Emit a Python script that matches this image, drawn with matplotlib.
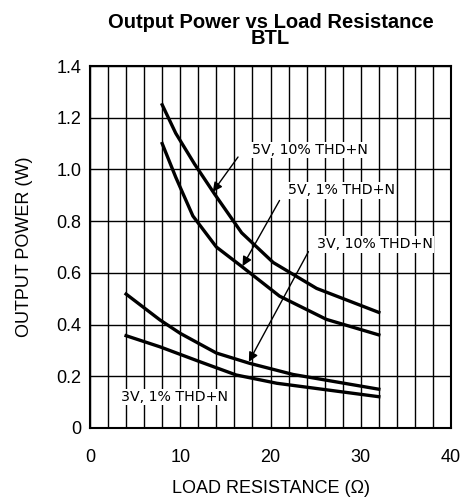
import matplotlib.pyplot as plt

# load resistance (ohm) and output power (W)
r_5v_10 = [8, 9.5, 11.6, 13.8, 16.8, 20.3, 25.1, 32]
p_5v_10 = [1.25, 1.14, 1.02, 0.905, 0.755, 0.64, 0.54, 0.447]

r_5v_1 = [8, 9.5, 11.4, 14, 16.8, 21, 26.2, 32]
p_5v_1 = [1.10, 0.97, 0.82, 0.70, 0.625, 0.51, 0.42, 0.36]

r_3v_10 = [4, 7.75, 10, 14, 17.7, 22.5, 32]
p_3v_10 = [0.518, 0.418, 0.366, 0.29, 0.25, 0.207, 0.15]

r_3v_1 = [4, 7.75, 12.2, 16.2, 20.7, 32]
p_3v_1 = [0.357, 0.314, 0.256, 0.205, 0.173, 0.121]

labels = ["5V, 10% THD+N", "5V, 1% THD+N", "3V, 10% THD+N", "3V, 1% THD+N"]
label_pos = [(17.9, 1.075), (21.9, 0.92), (25.1, 0.711), (3.4, 0.12)]
arrow_from = [(16.4, 1.048), (21.0, 0.88), (24.2, 0.682), None]
arrow_to = [(13.6, 0.913), (16.9, 0.626), (17.6, 0.256), None]

plt.rcParams['font.family'] = ['Liberation Sans', 'DejaVu Sans']

fig = plt.figure(figsize=(4.65, 5), dpi=100)
ax = fig.add_axes([0.1935, 0.144, 0.7765, 0.724])

for xs, ys in [(r_5v_10, p_5v_10), (r_5v_1, p_5v_1), (r_3v_10, p_3v_10), (r_3v_1, p_3v_1)]:
    ax.plot(xs, ys, color="black", lw=2.4, zorder=3)

for lab, pos, a0, a1 in zip(labels, label_pos, arrow_from, arrow_to):
    ax.text(pos[0], pos[1], lab, fontsize=10.2, family="DejaVu Sans", va="center", ha="left",
            bbox=dict(facecolor="white", edgecolor="none", pad=1), zorder=4)
    if a0 is not None:
        ax.annotate("", xy=a1, xytext=a0,
                    arrowprops=dict(arrowstyle="-|>", color="black", lw=1,
                                    mutation_scale=14, shrinkA=0, shrinkB=0), zorder=5)

ax.set_xlim(0, 40)
ax.set_ylim(0, 1.4)
ax.set_xticks([0, 10, 20, 30, 40])
ax.set_xticks(range(0, 41, 2), minor=True)
ax.set_yticks([0, 0.2, 0.4, 0.6, 0.8, 1.0, 1.2, 1.4])
ax.set_yticklabels(["0", "0.2", "0.4", "0.6", "0.8", "1.0", "1.2", "1.4"])
ax.tick_params(which="both", length=0, labelsize=13)
ax.tick_params(axis="x", pad=15)
ax.tick_params(axis="y", pad=6)
ax.grid(True, which="both", axis="x", color="black", lw=1)
ax.grid(True, which="major", axis="y", color="black", lw=1)
for s in ax.spines.values():
    s.set_linewidth(1.5)

ax.set_xlabel("LOAD RESISTANCE (Ω)", fontsize=13, labelpad=10)
ax.set_ylabel("OUTPUT POWER (W)", fontsize=13, labelpad=17)
ax.set_title("Output Power vs Load Resistance\nBTL", fontsize=14.5, fontweight="bold",
             linespacing=0.8, pad=16)

fig.savefig("out.png", dpi=100)
